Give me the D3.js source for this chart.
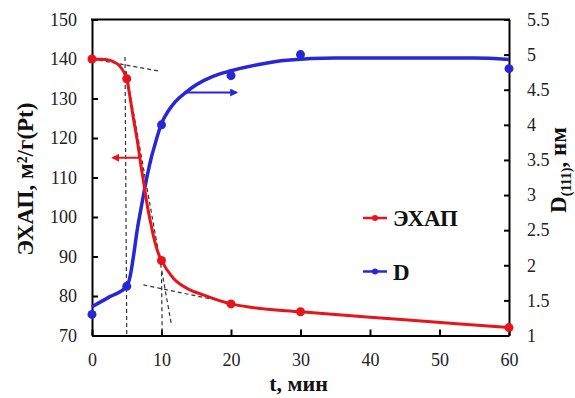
<!DOCTYPE html>
<html>
<head>
<meta charset="utf-8">
<script src="https://cdn.jsdelivr.net/npm/d3@7"></script>
<style>
  body { margin: 0; background: #fff; }
  text { font-family: "Liberation Serif", "Times New Roman", serif; }
</style>
</head>
<body>
<svg id="chart" width="575" height="398"></svg>
<script>
// measured points
var times = [0, 5, 10, 20, 30, 60];
var ecsa = [140, 135, 89, 78, 76, 72];
var dSize = [1.3, 1.7, 4.0, 4.7, 5.0, 4.8];

// smoothed curves as they are drawn in the figure
var ecsaLineT = [0, 2, 3, 4, 4.7, 5, 5.5, 6, 6.5, 7, 7.5, 8, 8.5, 9, 9.5, 10, 11.7, 13.6, 16, 20, 23, 30, 45, 60];
var ecsaLineV = [140, 139.9, 139.4, 138.2, 136.3, 135, 130, 124.5, 119.5, 113.5, 108, 102.5, 98, 94, 91, 89, 84.5, 82, 80.3, 78, 77.1, 76, 74, 72];
var dLineT = [0, 2.5, 5, 5.5, 6, 6.5, 7, 7.5, 8, 8.5, 9, 9.5, 10, 11, 12, 13.6, 15, 17.4, 20, 24, 28, 35, 45, 55, 60];
var dLineV = [1.41, 1.55, 1.7, 1.85, 2.15, 2.5, 2.78, 3.05, 3.3, 3.52, 3.7, 3.87, 4.02, 4.2, 4.33, 4.47, 4.57, 4.69, 4.77, 4.86, 4.92, 4.95, 4.95, 4.95, 4.93];

// dashed construction lines, in (t, ЭХАП) units
var guides = [
  [[0, 140], [9.5, 137]],
  [[4.75, 140.5], [5.0, 70]],
  [[4.9, 137], [11.4, 73]],
  [[10, 86], [10.1, 70]],
  [[7.4, 82.8], [20, 78.2]]
];

var xTicks = [0, 10, 20, 30, 40, 50, 60];
var yLeftTicks = [70, 80, 90, 100, 110, 120, 130, 140, 150];
var yRightTicks = [1, 1.5, 2, 2.5, 3, 3.5, 4, 4.5, 5, 5.5];

var red = "#e8141b", blue = "#2727d6";

var svg = d3.select("#chart");
var plotL = 92, plotR = 509, plotT = 19.5, plotB = 335.5;

var x = d3.scaleLinear().domain([0, 60]).range([plotL, plotR]);
var yL = d3.scaleLinear().domain([70, 150]).range([plotB, plotT]);
var yR = d3.scaleLinear().domain([1, 5.5]).range([plotB, plotT]);

var defs = svg.append("defs");
[["arrRed", red], ["arrBlue", blue]].forEach(function (m) {
  defs.append("marker").attr("id", m[0])
    .attr("viewBox", "0 0 10 10").attr("refX", 8).attr("refY", 5)
    .attr("markerWidth", 4).attr("markerHeight", 4).attr("orient", "auto")
    .append("path").attr("d", "M0,0L10,5L0,10z").attr("fill", m[1]);
});

// axes
var gx = svg.append("g").attr("transform", "translate(0," + plotB + ")")
  .call(d3.axisBottom(x).tickValues(xTicks).tickSize(-6).tickSizeOuter(0).tickPadding(18));
var gl = svg.append("g").attr("transform", "translate(" + plotL + ",0)")
  .call(d3.axisLeft(yL).tickValues(yLeftTicks).tickSize(-6).tickSizeOuter(0).tickPadding(15));
var gr = svg.append("g").attr("transform", "translate(" + plotR + ",0)")
  .call(d3.axisRight(yR).tickValues(yRightTicks).tickSize(-5).tickSizeOuter(0).tickPadding(18)
    .tickFormat(d3.format("")));
[gx, gl, gr].forEach(function (g) {
  g.attr("font-size", 18).attr("font-family", "'Liberation Serif', serif");
  g.select(".domain").attr("stroke", "#000").attr("stroke-width", 2);
  g.selectAll(".tick line").attr("stroke", "#000").attr("stroke-width", 2);
  g.selectAll(".tick text").attr("fill", "#222");
});
svg.append("line").attr("x1", plotL - 1).attr("x2", plotR + 1).attr("y1", plotT).attr("y2", plotT)
  .attr("stroke", "#000").attr("stroke-width", 2);

// dashed guides
svg.append("g").selectAll("line").data(guides).join("line")
  .attr("x1", d => x(d[0][0])).attr("y1", d => yL(d[0][1]))
  .attr("x2", d => x(d[1][0])).attr("y2", d => yL(d[1][1]))
  .attr("stroke", "#333").attr("stroke-width", 1.2).attr("stroke-dasharray", "4,3");

// curves
var ecsaLine = d3.line().x(d => x(d[0])).y(d => yL(d[1])).curve(d3.curveMonotoneX);
var dLine = d3.line().x(d => x(d[0])).y(d => yR(d[1])).curve(d3.curveMonotoneX);

svg.append("path").datum(dLineT.map((t, i) => [t, dLineV[i]]))
  .attr("d", dLine).attr("fill", "none").attr("stroke", blue).attr("stroke-width", 3.5);
svg.append("path").datum(ecsaLineT.map((t, i) => [t, ecsaLineV[i]]))
  .attr("d", ecsaLine).attr("fill", "none").attr("stroke", red).attr("stroke-width", 3);

svg.append("g").selectAll("circle").data(times).join("circle")
  .attr("cx", d => x(d)).attr("cy", (d, i) => yR(dSize[i])).attr("r", 4.5).attr("fill", blue);
svg.append("g").selectAll("circle").data(times).join("circle")
  .attr("cx", d => x(d)).attr("cy", (d, i) => yL(ecsa[i])).attr("r", 4.5).attr("fill", red);

// direction arrows
svg.append("line").attr("x1", x(6.8)).attr("x2", x(3.0)).attr("y1", yL(115)).attr("y2", yL(115))
  .attr("stroke", red).attr("stroke-width", 2).attr("marker-end", "url(#arrRed)");
svg.append("line").attr("x1", x(13.6)).attr("x2", x(20.8)).attr("y1", yR(4.46)).attr("y2", yR(4.46))
  .attr("stroke", blue).attr("stroke-width", 2).attr("marker-end", "url(#arrBlue)");

// legend
var legend = [["ЭХАП", red, 218], ["D", blue, 271.5]];
legend.forEach(function (l) {
  svg.append("line").attr("x1", 363).attr("x2", 387).attr("y1", l[2]).attr("y2", l[2])
    .attr("stroke", l[1]).attr("stroke-width", 2.5);
  svg.append("circle").attr("cx", 375).attr("cy", l[2]).attr("r", 3).attr("fill", l[1]);
  svg.append("text").attr("x", 393).attr("y", l[2] + 8).attr("font-size", 23)
    .attr("font-weight", "bold").attr("fill", "#111").text(l[0]);
});

// axis titles
svg.append("text").attr("x", 298.5).attr("y", 391).attr("text-anchor", "middle")
  .attr("font-size", 22).attr("font-weight", "bold").attr("fill", "#111").text("t, мин");

svg.append("text").attr("transform", "translate(33,179) rotate(-90)").attr("text-anchor", "middle")
  .attr("font-size", 23).attr("font-weight", "bold").attr("fill", "#111").text("ЭХАП, м²/г(Pt)");

var rt = svg.append("text").attr("transform", "translate(566,170) rotate(-90)").attr("text-anchor", "middle")
  .attr("font-size", 23).attr("font-weight", "bold").attr("fill", "#111");
rt.append("tspan").text("D");
rt.append("tspan").attr("font-size", 14).attr("dy", 5).text("(111)");
rt.append("tspan").attr("dy", -5).text(", нм");
</script>
</body>
</html>
